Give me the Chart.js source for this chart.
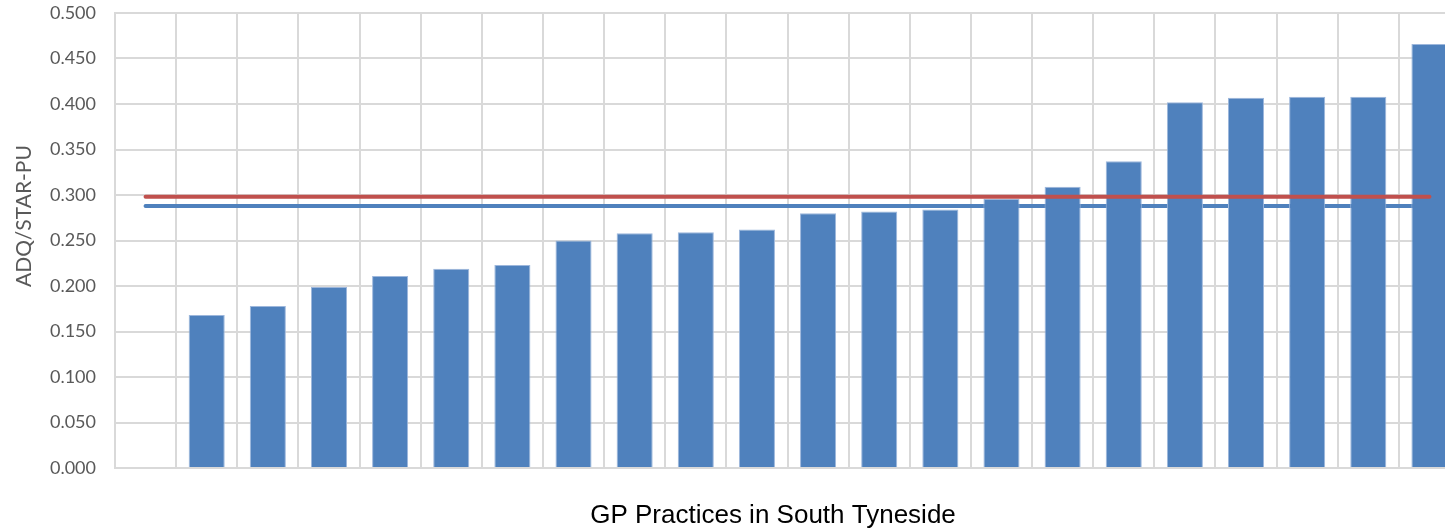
<!DOCTYPE html>
<html>
<head>
<meta charset="utf-8">
<title>ADQ/STAR-PU by GP practice</title>
<script src="https://cdn.jsdelivr.net/npm/chart.js@4.4.1/dist/chart.umd.min.js"></script>
<style>
  html, body { margin: 0; padding: 0; background: #ffffff; overflow: hidden; }
  body { width: 1445px; height: 530px; }
  canvas { display: block; }
</style>
</head>
<body>
<canvas id="chart" width="1470" height="530"></canvas>
<script>
// Practices, ordered by prescribing rate (first slot left blank on the axis)
const practices = ['', 'P01', 'P02', 'P03', 'P04', 'P05', 'P06', 'P07', 'P08', 'P09', 'P10',
  'P11', 'P12', 'P13', 'P14', 'P15', 'P16', 'P17', 'P18', 'P19', 'P20', 'P21'];

// ADQ per STAR-PU for each practice
const adqPerStarPu = [null, 0.168, 0.178, 0.199, 0.211, 0.219, 0.223, 0.250, 0.258, 0.259, 0.262,
  0.280, 0.282, 0.284, 0.296, 0.309, 0.337, 0.402, 0.407, 0.408, 0.408, 0.466];

// Benchmark levels drawn across all practices
const referenceLevelA = [0.298, 0.298, 0.298, 0.298, 0.298, 0.298, 0.298, 0.298, 0.298, 0.298, 0.298,
  0.298, 0.298, 0.298, 0.298, 0.298, 0.298, 0.298, 0.298, 0.298, 0.298, 0.298];
const referenceLevelB = [0.288, 0.288, 0.288, 0.288, 0.288, 0.288, 0.288, 0.288, 0.288, 0.288, 0.288,
  0.288, 0.288, 0.288, 0.288, 0.288, 0.288, 0.288, 0.288, 0.288, 0.288, 0.288];

// Value axis ticks
const yTickValues = [0, 0.05, 0.1, 0.15, 0.2, 0.25, 0.3, 0.35, 0.4, 0.45, 0.5];

const yAxisTitle = 'ADQ/STAR-PU';
const xAxisTitle = 'GP Practices in South Tyneside';

const GRID = '#d9d9d9';

// Axis titles placed the way the original workbook chart lays them out
const axisTitles = {
  id: 'axisTitles',
  afterDraw(chart) {
    const ctx = chart.ctx;
    ctx.save();
    ctx.fillStyle = '#595959';
    ctx.font = '21px Lato';
    ctx.textAlign = 'center';
    ctx.textBaseline = 'middle';
    ctx.translate(24, 216);
    ctx.rotate(-Math.PI / 2);
    ctx.fillText(yAxisTitle, 0, 0);
    ctx.restore();

    ctx.save();
    ctx.fillStyle = '#000000';
    ctx.font = '26px "Liberation Sans", Arial, sans-serif';
    ctx.textAlign = 'center';
    ctx.textBaseline = 'alphabetic';
    ctx.fillText(xAxisTitle, 773, 523);
    ctx.restore();
  }
};

new Chart(document.getElementById('chart'), {
  data: {
    labels: practices,
    datasets: [
      {
        type: 'line',
        data: referenceLevelA,
        borderColor: '#c0504d',
        borderWidth: 4,
        borderCapStyle: 'round',
        pointRadius: 0,
        fill: false,
        order: 0
      },
      {
        type: 'bar',
        data: adqPerStarPu,
        backgroundColor: '#4f81bd',
        borderColor: '#9db7dc',
        borderWidth: 1,
        categoryPercentage: 1,
        barPercentage: 0.59,
        order: 1
      },
      {
        type: 'line',
        data: referenceLevelB,
        borderColor: '#4f81bd',
        borderWidth: 4,
        borderCapStyle: 'round',
        pointRadius: 0,
        fill: false,
        order: 2
      }
    ]
  },
  options: {
    responsive: false,
    animation: false,
    devicePixelRatio: 1,
    layout: { padding: { top: 13, right: 10, left: 0, bottom: 0 } },
    plugins: {
      legend: { display: false },
      tooltip: { enabled: false }
    },
    scales: {
      x: {
        type: 'category',
        offset: true,
        grid: { offset: true, color: GRID, lineWidth: 2, drawTicks: false },
        border: { color: GRID, width: 2 },
        ticks: { display: false },
        afterFit(scale) { scale.height = 62; }
      },
      y: {
        type: 'linear',
        min: 0,
        max: 0.5,
        grid: { color: GRID, lineWidth: 2, drawTicks: false },
        border: { color: GRID, width: 2 },
        afterBuildTicks(scale) { scale.ticks = yTickValues.map(v => ({ value: v })); },
        ticks: {
          padding: 19,
          color: '#595959',
          font: { family: 'Lato', size: 18 },
          callback: v => Number(v).toFixed(3)
        },
        afterFit(scale) {
          scale.width = 115;
          scale.paddingTop = 0;
          scale.paddingBottom = 0;
        }
      }
    }
  },
  plugins: [axisTitles]
});
</script>
</body>
</html>
